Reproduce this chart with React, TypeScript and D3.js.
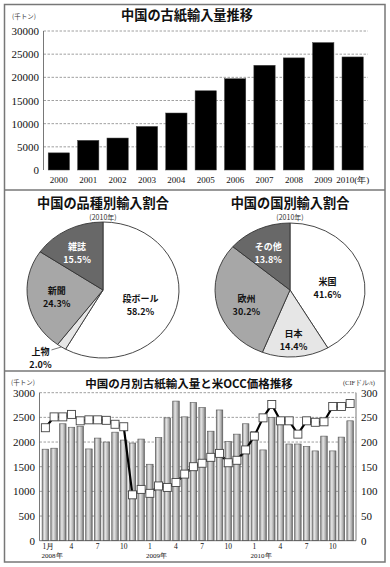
import React from 'react';
import * as d3 from 'd3';

// ---------- data ----------
const years = ['2000', '2001', '2002', '2003', '2004', '2005', '2006', '2007', '2008', '2009', '2010'];
const annualImports = [3700, 6400, 6900, 9400, 12300, 17100, 19700, 22600, 24200, 27500, 24400];
const annualTicks = [0, 5000, 10000, 15000, 20000, 25000, 30000];

const gradeNames = ['段ボール', '上物', '新聞', '雑誌'];
const gradeShares = [58.2, 2.0, 24.3, 15.5];
const countryNames = ['米国', '日本', '欧州', 'その他'];
const countryShares = [41.6, 14.4, 30.2, 13.8];

const monthKeys = [
  '2008-01', '2008-02', '2008-03', '2008-04', '2008-05', '2008-06', '2008-07', '2008-08', '2008-09', '2008-10', '2008-11', '2008-12',
  '2009-01', '2009-02', '2009-03', '2009-04', '2009-05', '2009-06', '2009-07', '2009-08', '2009-09', '2009-10', '2009-11', '2009-12',
  '2010-01', '2010-02', '2010-03', '2010-04', '2010-05', '2010-06', '2010-07', '2010-08', '2010-09', '2010-10', '2010-11', '2010-12',
];
const monthTickLabels = [
  '1月', '', '', '4', '', '', '7', '', '', '10', '', '',
  '1', '', '', '4', '', '', '7', '', '', '10', '', '',
  '1', '', '', '4', '', '', '7', '', '', '10', '', '',
];
const yearTickLabels = [
  '2008年', '', '', '', '', '', '', '', '', '', '', '',
  '2009年', '', '', '', '', '', '', '', '', '', '', '',
  '2010年', '', '', '', '', '', '', '', '', '', '', '',
];
const monthlyImports = [
  1855, 1875, 2370, 2300, 2320, 1860, 2080, 2000, 2200, 2040, 1980, 2060,
  1550, 2090, 2490, 2830, 2510, 2800, 2700, 2220, 2650, 2010, 2160, 2370,
  2210, 1840, 2500, 2360, 1960, 1960, 1910, 1820, 2120, 1820, 2100, 2430,
];
const occPrice = [
  229, 251, 251, 256, 243, 245, 245, 244, 236, 231, 93, 104,
  96, 111, 108, 118, 135, 150, 157, 169, 177, 158, 163, 184,
  212, 249, 276, 243, 243, 216, 243, 240, 241, 272, 272, 278,
];
const monthlyTicks = [0, 500, 1000, 1500, 2000, 2500, 3000];
const priceTicks = [0, 50, 100, 150, 200, 250, 300];

// ---------- style / layout ----------
const W = 390;
const H = 567;
const JP = '"Noto Sans CJK JP", "Noto Sans", sans-serif';
const NUM = '"Liberation Serif", "DejaVu Serif", serif';
const sliceFills = ['#ffffff', '#e6e6e6', '#a7a7a7', '#686868'];
const sliceText = ['#111', '#111', '#111', '#ffffff'];
// label nudges after centroid placement
const gradeNudges = [[-8, 4], [-21, 11], [0, 0], [-4, 0]];
const countryNudges = [[-8, 9], [0, 8], [2, 5], [-2, 1]];

function Pie({ cx, cy, rx, ry, names, shares, nudges, title }) {
  const arcs = d3.pie<number>().sort(null).value((d) => d)(shares);
  const arc = d3.arc<any>().innerRadius(0).outerRadius(ry);
  const labelArc = d3.arc<any>().innerRadius(42).outerRadius(42);
  const sx = rx / ry;
  const fs = 9;
  const gap = 6.6;
  return (
    <g>
      <text x={cx} y={cy - 82} textAnchor="middle" fontFamily={JP} fontWeight="bold" fontSize={13.2} fill="#111">
        {title}
      </text>
      <text x={cx} y={cy - 70.5} textAnchor="middle" fontFamily={JP} fontSize={7} fill="#333">
        (2010年)
      </text>
      <g transform={`translate(${cx},${cy}) scale(${sx},1)`}>
        {arcs.map((a, i) => (
          <path key={i} d={arc(a) as string} fill={sliceFills[i]} stroke="#333" strokeWidth={0.9} vectorEffect="non-scaling-stroke" />
        ))}
      </g>
      {arcs.map((a, i) => {
        const outside = shares[i] < 5;
        const mid = (a.startAngle + a.endAngle) / 2;
        let x: number;
        let y: number;
        if (outside) {
          const ex = cx + Math.sin(mid) * rx;
          const ey = cy - Math.cos(mid) * ry;
          x = ex + nudges[i][0];
          y = ey + nudges[i][1];
          return (
            <g key={'l' + i}>
              <line x1={ex} y1={ey} x2={ex - 10} y2={ey + 3} stroke="#555" strokeWidth={0.8} />
              <text x={x} y={y - gap} textAnchor="middle" dominantBaseline="central" fontFamily={JP} fontWeight="bold" fontSize={fs} fill="#111">{names[i]}</text>
              <text x={x} y={y + gap} textAnchor="middle" dominantBaseline="central" fontFamily={JP} fontWeight="bold" fontSize={fs} fill="#111">{shares[i].toFixed(1)}%</text>
            </g>
          );
        }
        const c = labelArc.centroid(a);
        x = cx + c[0] * sx + nudges[i][0];
        y = cy + c[1] + nudges[i][1];
        return (
          <g key={'l' + i}>
            <text x={x} y={y - gap} textAnchor="middle" dominantBaseline="central" fontFamily={JP} fontWeight="bold" fontSize={fs} fill={sliceText[i]}>{names[i]}</text>
            <text x={x} y={y + gap} textAnchor="middle" dominantBaseline="central" fontFamily={JP} fontWeight="bold" fontSize={fs} fill={sliceText[i]}>{shares[i].toFixed(1)}%</text>
          </g>
        );
      })}
    </g>
  );
}

export default function App() {
  // ---- top chart ----
  const tx = d3.scaleBand<string>().domain(years).range([43.5, 368]).paddingInner(0.275).paddingOuter(0.16);
  const ty = d3.scaleLinear().domain([0, 30000]).range([170, 31]);

  // ---- bottom chart ----
  const bx = d3.scaleBand<string>().domain(monthKeys).range([39.5, 356]).paddingInner(0.25).paddingOuter(0.3);
  const by = d3.scaleLinear().domain([0, 3000]).range([540.7, 392.7]);
  const bp = d3.scaleLinear().domain([0, 300]).range([540.7, 392.7]);
  const line = d3
    .line<number>()
    .x((_, i) => (bx(monthKeys[i]) as number) + bx.bandwidth() / 2)
    .y((d) => bp(d));

  return (
    <svg width={W} height={H} style={{ position: 'absolute', left: 0, top: 0, background: '#fff' }}>
      <defs>
        <linearGradient id="barGrad" x1="0" x2="1" y1="0" y2="0">
          <stop offset="0" stopColor="#8a8a8a" />
          <stop offset="0.35" stopColor="#e6e6e6" />
          <stop offset="0.7" stopColor="#b4b4b4" />
          <stop offset="1" stopColor="#6c6c6c" />
        </linearGradient>
      </defs>
      <rect x={0} y={0} width={W} height={H} fill="#fff" />
      {/* frame */}
      <rect x={4.5} y={4.5} width={380.5} height={557.5} fill="none" stroke="#777" strokeWidth={1.5} />
      <line x1={4.5} x2={385} y1={190} y2={190} stroke="#777" strokeWidth={1.5} />
      <line x1={4.5} x2={385} y1={371} y2={371} stroke="#777" strokeWidth={1.5} />

      {/* ===== top chart ===== */}
      <text x={187} y={20} textAnchor="middle" fontFamily={JP} fontWeight="bold" fontSize={13.2} fill="#111">中国の古紙輸入量推移</text>
      <text x={12} y={19} fontFamily={JP} fontSize={6.5} fill="#333">(千トン)</text>
      {annualTicks.map((t) => (
        <g key={'tt' + t}>
          {t > 0 && (
            <line x1={43.5} x2={368} y1={ty(t)} y2={ty(t)} stroke="#888" strokeWidth={0.8} strokeDasharray="2.5,1.5" />
          )}
          <text x={39} y={ty(t)} textAnchor="end" dominantBaseline="central" fontFamily={NUM} fontSize={11} fill="#111">{t}</text>
        </g>
      ))}
      <line x1={43.5} x2={43.5} y1={31} y2={170} stroke="#555" strokeWidth={0.8} />
      {annualImports.map((v, i) => (
        <rect key={'tb' + i} x={tx(years[i])} y={ty(v)} width={tx.bandwidth()} height={ty(0) - ty(v)} fill="#000" stroke="#444" strokeWidth={0.5} />
      ))}
      {years.map((yr, i) => (
        <text key={'tl' + i} x={(tx(yr) as number) + tx.bandwidth() / 2} y={183} textAnchor="middle" fontFamily={NUM} fontSize={9} fill="#111">
          {i === years.length - 1 ? `${yr}(年)` : yr}
        </text>
      ))}

      {/* ===== pies ===== */}
      <Pie cx={103} cy={290} rx={76} ry={68} names={gradeNames} shares={gradeShares} nudges={gradeNudges} title="中国の品種別輸入割合" />
      <Pie cx={290} cy={290} rx={75} ry={67} names={countryNames} shares={countryShares} nudges={countryNudges} title="中国の国別輸入割合" />

      {/* ===== bottom chart ===== */}
      <text x={189} y={387.5} textAnchor="middle" fontFamily={JP} fontWeight="bold" fontSize={11.5} fill="#111">中国の月別古紙輸入量と米OCC価格推移</text>
      <text x={11} y={385} fontFamily={JP} fontSize={6.5} fill="#333">(千トン)</text>
      <text x={375} y={384.5} textAnchor="end" fontFamily={NUM} fontSize={6.5} fill="#333">(CIFドル/t)</text>
      {monthlyTicks.map((t) => (
        <g key={'bt' + t}>
          {t > 0 && (
            <line x1={39.5} x2={356} y1={by(t)} y2={by(t)} stroke="#888" strokeWidth={0.8} strokeDasharray="2.5,1.5" />
          )}
          <text x={35} y={by(t)} textAnchor="end" dominantBaseline="central" fontFamily={NUM} fontSize={11} fill="#111">{t}</text>
        </g>
      ))}
      {priceTicks.map((t) => (
        <text key={'pt' + t} x={361} y={bp(t)} dominantBaseline="central" fontFamily={NUM} fontSize={11} fill="#111">{t}</text>
      ))}
      {monthlyImports.map((v, i) => (
        <rect key={'mb' + i} x={bx(monthKeys[i])} y={by(v)} width={bx.bandwidth()} height={by(0) - by(v)} fill="url(#barGrad)" stroke="#555" strokeWidth={0.6} />
      ))}
      <line x1={39.5} x2={39.5} y1={392.7} y2={540.7} stroke="#555" strokeWidth={0.8} />
      <line x1={356} x2={356} y1={392.7} y2={540.7} stroke="#555" strokeWidth={0.8} />
      <line x1={39.5} x2={356} y1={540.7} y2={540.7} stroke="#555" strokeWidth={0.8} />
      <path d={line(occPrice) as string} fill="none" stroke="#000" strokeWidth={2.2} strokeLinejoin="round" />
      {occPrice.map((v, i) => (
        <rect key={'mk' + i} x={(bx(monthKeys[i]) as number) + bx.bandwidth() / 2 - 4} y={bp(v) - 4} width={8} height={8} fill="#fff" stroke="#444" strokeWidth={0.9} />
      ))}
      {monthTickLabels.map((m, i) =>
        m ? (
          <text key={'ml' + i} x={(bx(monthKeys[i]) as number) + bx.bandwidth() / 2 + (m === '1月' ? 3 : 0)} y={549} textAnchor="middle" fontFamily={NUM} fontSize={7.5} fill="#111">{m}</text>
        ) : null
      )}
      {yearTickLabels.map((yl, i) =>
        yl ? (
          <text key={'yl' + i} x={(bx(monthKeys[i]) as number) + 10} y={557.5} textAnchor="middle" fontFamily={NUM} fontSize={7} fill="#111">{yl}</text>
        ) : null
      )}
    </svg>
  );
}
